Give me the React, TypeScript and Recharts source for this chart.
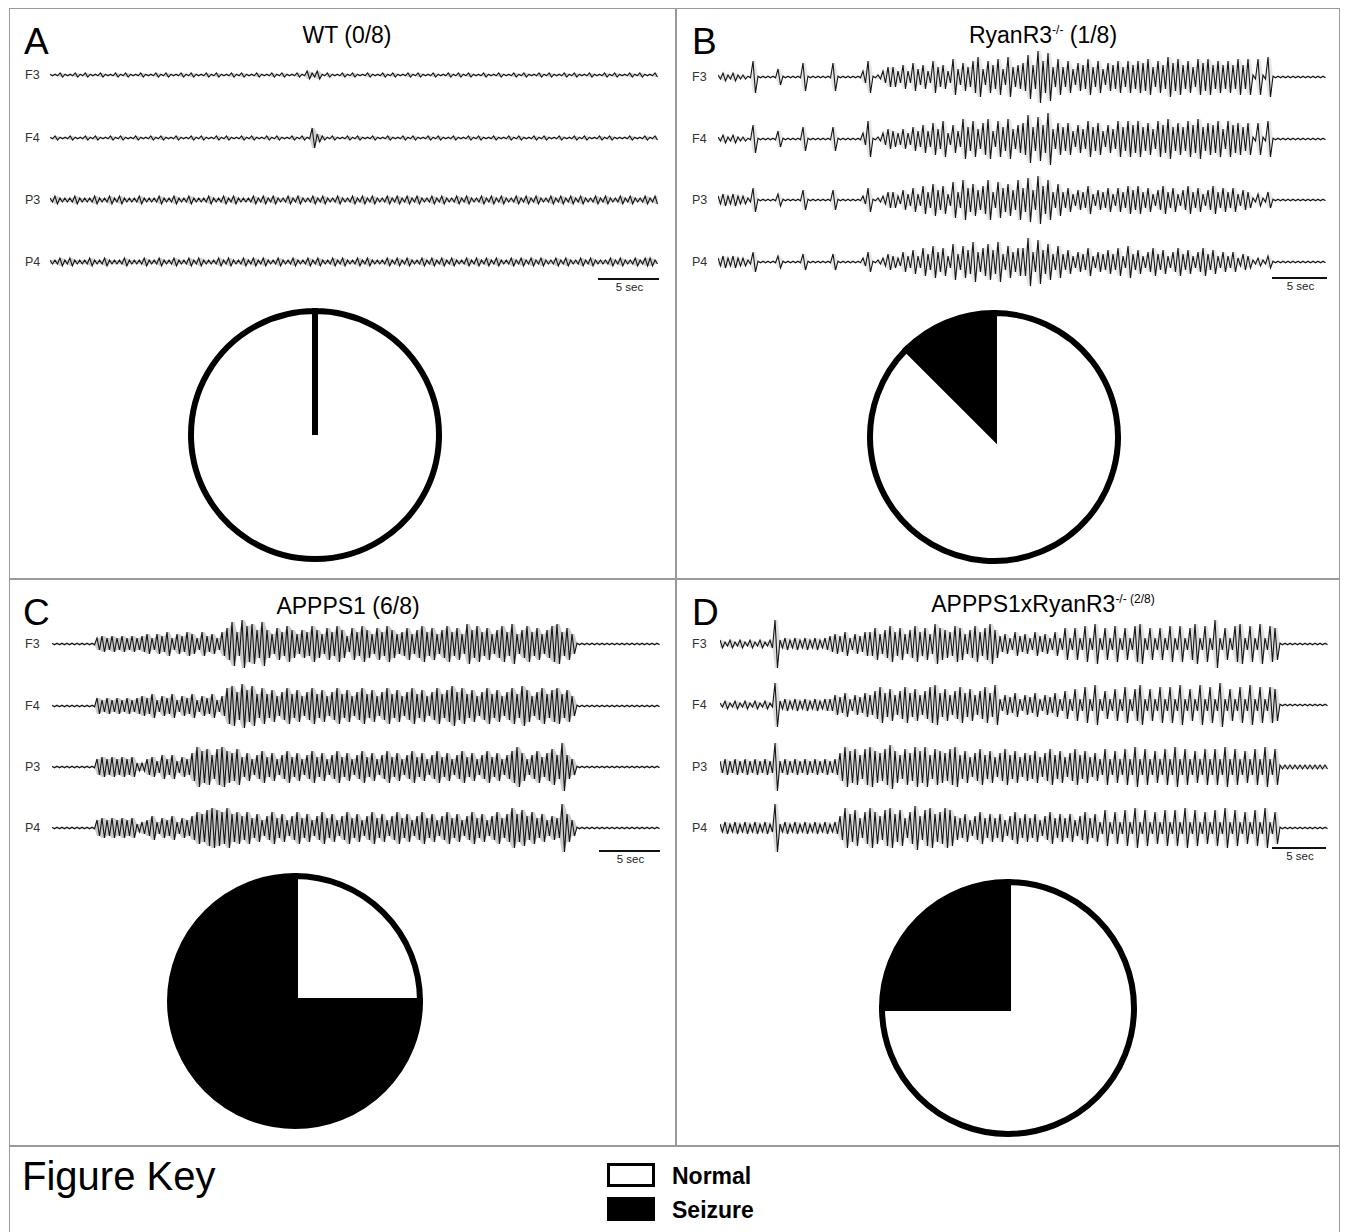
import React from "react";
import { ComposedChart, Line, Area, XAxis, YAxis, PieChart, Pie, Cell } from "recharts";

// EEG channels, top to bottom in every panel
const CHANNELS = ["F3", "F4", "P3", "P4"];

// mice with seizures out of 8 per genotype
const SEIZURE_COUNTS = [0, 1, 6, 2];
const TOTAL_MICE = 8;

// trace envelopes: one base-36 amplitude level per 5px time bin (1 level ~ 2px)
const A_F3 = "0010010100100101001001010010100101001010010010100102120100101001001010010100100101010010010010100101001010010010100101001";
const A_F4 = "0100100101001010010010100100101001010010100101001010521010010100100100101001010010010100100101001010010010100101000100101";
const A_P3 = "121112111211212111211121121121112112121112121211212112121121121212112121212112121121211212121121212112121212112121121211212";
const A_P4 = "112121112112111211121121121121211121211212121121121121211212112121112121211212121211212121211212121211212112121112121121221";

const B_F3 = "12121108000040000700000700000380135" + "53637463856394758a48694a56" + "7b6d8c59" + "58476958476858" + "6879586a79685979686" + "86969" + "191a00000000000";
const B_F4 = "12121107000040000600000600000390135" + "43536474859374a6958a496a57" + "8c6b7d58" + "68475968475969" + "7968597a68697a68795" + "97868" + "181900000000000";
const B_P3 = "23232216000030000500000500000260124" + "42536374857394a6857a49685a" + "6b5c7a48" + "46354735463647" + "5746357463574635746" + "46354" + "131400000000000";
const B_P4 = "23232215000030000400000400000250124" + "3253637485739486a5796a4857" + "7c5b6948" + "46354735464738" + "4635746357463574635" + "35243" + "121300000000000";

const C_F3 = "000000000" + "343434343" + "45354635465364536" + "8b6c9a7b" + "758697576975869748697586975" + "6857968579685a79685796a57968579" + "a" + "685" + "00000000000000000";
const C_F4 = "000000000" + "434343434" + "54635463546354635" + "9a7b8a69" + "685796857968579685796857968" + "5796857968a7968579685796a857968" + "9" + "685" + "00000000000000000";
const C_P3 = "000000000" + "45454545" + "22" + "453646354" + "7a8969a879" + "574685746857468574685746857468574685746857468574685746" + "8a7468579" + "6c" + "64" + "00000000000000000";
const C_P4 = "000000000" + "45454545" + "23" + "463546354" + "6879a98a78" + "685746857468574685746857468574685746857468574685746857" + "a79685746" + "5c" + "74" + "00000000000000000";

const D_F3 = "21212121212" + "c" + "2323232323" + "45463546" + "6857968579685a8769857968a7" + "453645364536" + "3838393a38393839a3838393938a393c3839a393a39" + "8" + "0000000000";
const D_F4 = "12121212121" + "b" + "2323232323" + "35463546" + "5796857968579a68579685796a" + "354635463546" + "3738393a37383938a3839393a383a393b38393a3939" + "8" + "0000000000";
const D_P3 = "34343434343" + "c" + "343434343434" + "7a8969a879b8697a8a69879a" + "6857968579685768579685796857" + "4948494a4948494a494849494a4948494a4" + "9" + "1111111111";
const D_P4 = "23232323232" + "c" + "232323232323" + "6a7958a869a7958b69a78a96" + "5746857574685757468575746857" + "3938393a393839393a3938393a3938393a3" + "8" + "0000000000";

const FONT = "'Liberation Sans', Arial, Helvetica, sans-serif";
const TRACE_W = 610;
const TRACE_H = 64;

function Text({ x, baseline, size, children, bold, align, color }: any) {
  const style: React.CSSProperties = {
    position: "absolute",
    top: baseline - 0.8465 * size,
    height: size,
    fontSize: size,
    lineHeight: `${size}px`,
    fontFamily: FONT,
    fontWeight: bold ? 700 : 400,
    color: color || "#000",
    whiteSpace: "nowrap",
  };
  if (align === "center") {
    style.left = x - 300;
    style.width = 600;
    style.textAlign = "center";
  } else {
    style.left = x;
  }
  return <div style={style}>{children}</div>;
}

function Trace({ levels, left, y, shade }: { levels: string; left: number; y: number; shade: number }) {
  const data: { t: number; v: number; env: number[] }[] = [];
  levels.split("").forEach((ch, i) => {
    const lv = parseInt(ch, 36);
    const a = lv === 0 ? 0.8 : lv * 2;
    data.push({ t: i, v: a, env: [-a, a] }, { t: i + 0.5, v: -a, env: [-a, a] });
  });
  return (
    <div style={{ position: "absolute", left, top: y - TRACE_H / 2 }}>
      <ComposedChart width={TRACE_W} height={TRACE_H} data={data} margin={{ top: 0, right: 0, bottom: 0, left: 0 }}>
        <XAxis dataKey="t" type="number" domain={[0, levels.length]} hide />
        <YAxis type="number" domain={[-TRACE_H / 2, TRACE_H / 2]} hide allowDataOverflow />
        <Area dataKey="env" stroke="none" fill="#7a7a7a" fillOpacity={shade} isAnimationActive={false} />
        <Line dataKey="v" stroke="#151515" strokeWidth={1.1} dot={false} isAnimationActive={false} />
      </ComposedChart>
    </div>
  );
}

function SeizurePie({ seizure, cx, cy, r }: { seizure: number; cx: number; cy: number; r: number }) {
  const data = [
    { name: "Seizure", value: seizure },
    { name: "Normal", value: TOTAL_MICE - seizure },
  ];
  const size = 300;
  return (
    <div style={{ position: "absolute", left: cx - size / 2, top: cy - size / 2 }}>
      <PieChart width={size} height={size} margin={{ top: 0, right: 0, bottom: 0, left: 0 }}>
        <Pie
          data={data}
          dataKey="value"
          nameKey="name"
          cx="50%"
          cy="50%"
          outerRadius={r}
          startAngle={90}
          endAngle={450}
          stroke="#000"
          strokeWidth={6}
          isAnimationActive={false}
        >
          <Cell fill="#000" />
          <Cell fill="#fff" />
        </Pie>
      </PieChart>
    </div>
  );
}

const SUP: React.CSSProperties = { fontSize: 12, verticalAlign: 9, lineHeight: 0 };

const PANELS = [
  {
    letter: "A", letterX: 24, letterBase: 54, titleX: 347, titleBase: 43,
    title: <>WT (0/8)</>,
    labelX: 25, traceX: 50, ys: [75, 138, 200, 262], traces: [A_F3, A_F4, A_P3, A_P4], shade: 0.35,
    bar: [598, 659, 279], pie: [315, 435, 124],
  },
  {
    letter: "B", letterX: 692, letterBase: 54, titleX: 1043, titleBase: 43,
    title: <>RyanR3<span style={SUP}>-/-</span> (1/8)</>,
    labelX: 692, traceX: 718, ys: [77, 139, 200, 262], traces: [B_F3, B_F4, B_P3, B_P4], shade: 0.18,
    bar: [1272, 1327, 278], pie: [994, 437, 124],
  },
  {
    letter: "C", letterX: 23, letterBase: 625, titleX: 348, titleBase: 614,
    title: <>APPPS1 (6/8)</>,
    labelX: 25, traceX: 52, ys: [644, 706, 767, 828], traces: [C_F3, C_F4, C_P3, C_P4], shade: 0.4,
    bar: [599, 660, 851], pie: [295, 1001, 125],
  },
  {
    letter: "D", letterX: 692, letterBase: 625, titleX: 1043, titleBase: 612,
    title: <>APPPS1xRyanR3<span style={SUP}>-/- (2/8)</span></>,
    labelX: 692, traceX: 720, ys: [644, 705, 767, 828], traces: [D_F3, D_F4, D_P3, D_P4], shade: 0.25,
    bar: [1272, 1326, 848], pie: [1008, 1008, 126],
  },
];

const GRID = "#9a9a9a";

export default function App() {
  return (
    <div style={{ position: "absolute", left: 0, top: 0, width: 1346, height: 1232, background: "#fff", overflow: "hidden", fontFamily: FONT }}>
      {/* frame */}
      <div style={{ position: "absolute", left: 9, top: 8, width: 1331, height: 1230, border: `1.5px solid ${GRID}`, boxSizing: "border-box" }} />
      <div style={{ position: "absolute", left: 675, top: 8, width: 1.5, height: 1137, background: GRID }} />
      <div style={{ position: "absolute", left: 9, top: 578, width: 1331, height: 1.5, background: GRID }} />
      <div style={{ position: "absolute", left: 9, top: 1145, width: 1331, height: 1.5, background: GRID }} />

      {PANELS.map((p, pi) => (
        <React.Fragment key={p.letter}>
          <Text x={p.letterX} baseline={p.letterBase} size={37}>{p.letter}</Text>
          <Text x={p.titleX} baseline={p.titleBase} size={23} align="center">{p.title}</Text>
          {CHANNELS.map((ch, ci) => (
            <React.Fragment key={ch}>
              <Text x={p.labelX} baseline={p.ys[ci] + 4.5} size={12.5} color="#333">{ch}</Text>
              <Trace levels={p.traces[ci]} left={p.traceX} y={p.ys[ci]} shade={p.shade} />
            </React.Fragment>
          ))}
          <div style={{ position: "absolute", left: p.bar[0], top: p.bar[2] - 1, width: p.bar[1] - p.bar[0], height: 2, background: "#111" }} />
          <Text x={(p.bar[0] + p.bar[1]) / 2 + 1} baseline={p.bar[2] + 13} size={11.5} align="center" color="#222">5 sec</Text>
          <SeizurePie seizure={SEIZURE_COUNTS[pi]} cx={p.pie[0]} cy={p.pie[1]} r={p.pie[2]} />
        </React.Fragment>
      ))}

      {/* figure key */}
      <Text x={22} baseline={1190} size={40}>Figure Key</Text>
      <div style={{ position: "absolute", left: 607, top: 1163, width: 48, height: 24, border: "3px solid #000", boxSizing: "border-box", background: "#fff" }} />
      <div style={{ position: "absolute", left: 607, top: 1197, width: 48, height: 24, background: "#000" }} />
      <Text x={672} baseline={1184} size={23} bold>Normal</Text>
      <Text x={672} baseline={1218} size={23} bold>Seizure</Text>
    </div>
  );
}
